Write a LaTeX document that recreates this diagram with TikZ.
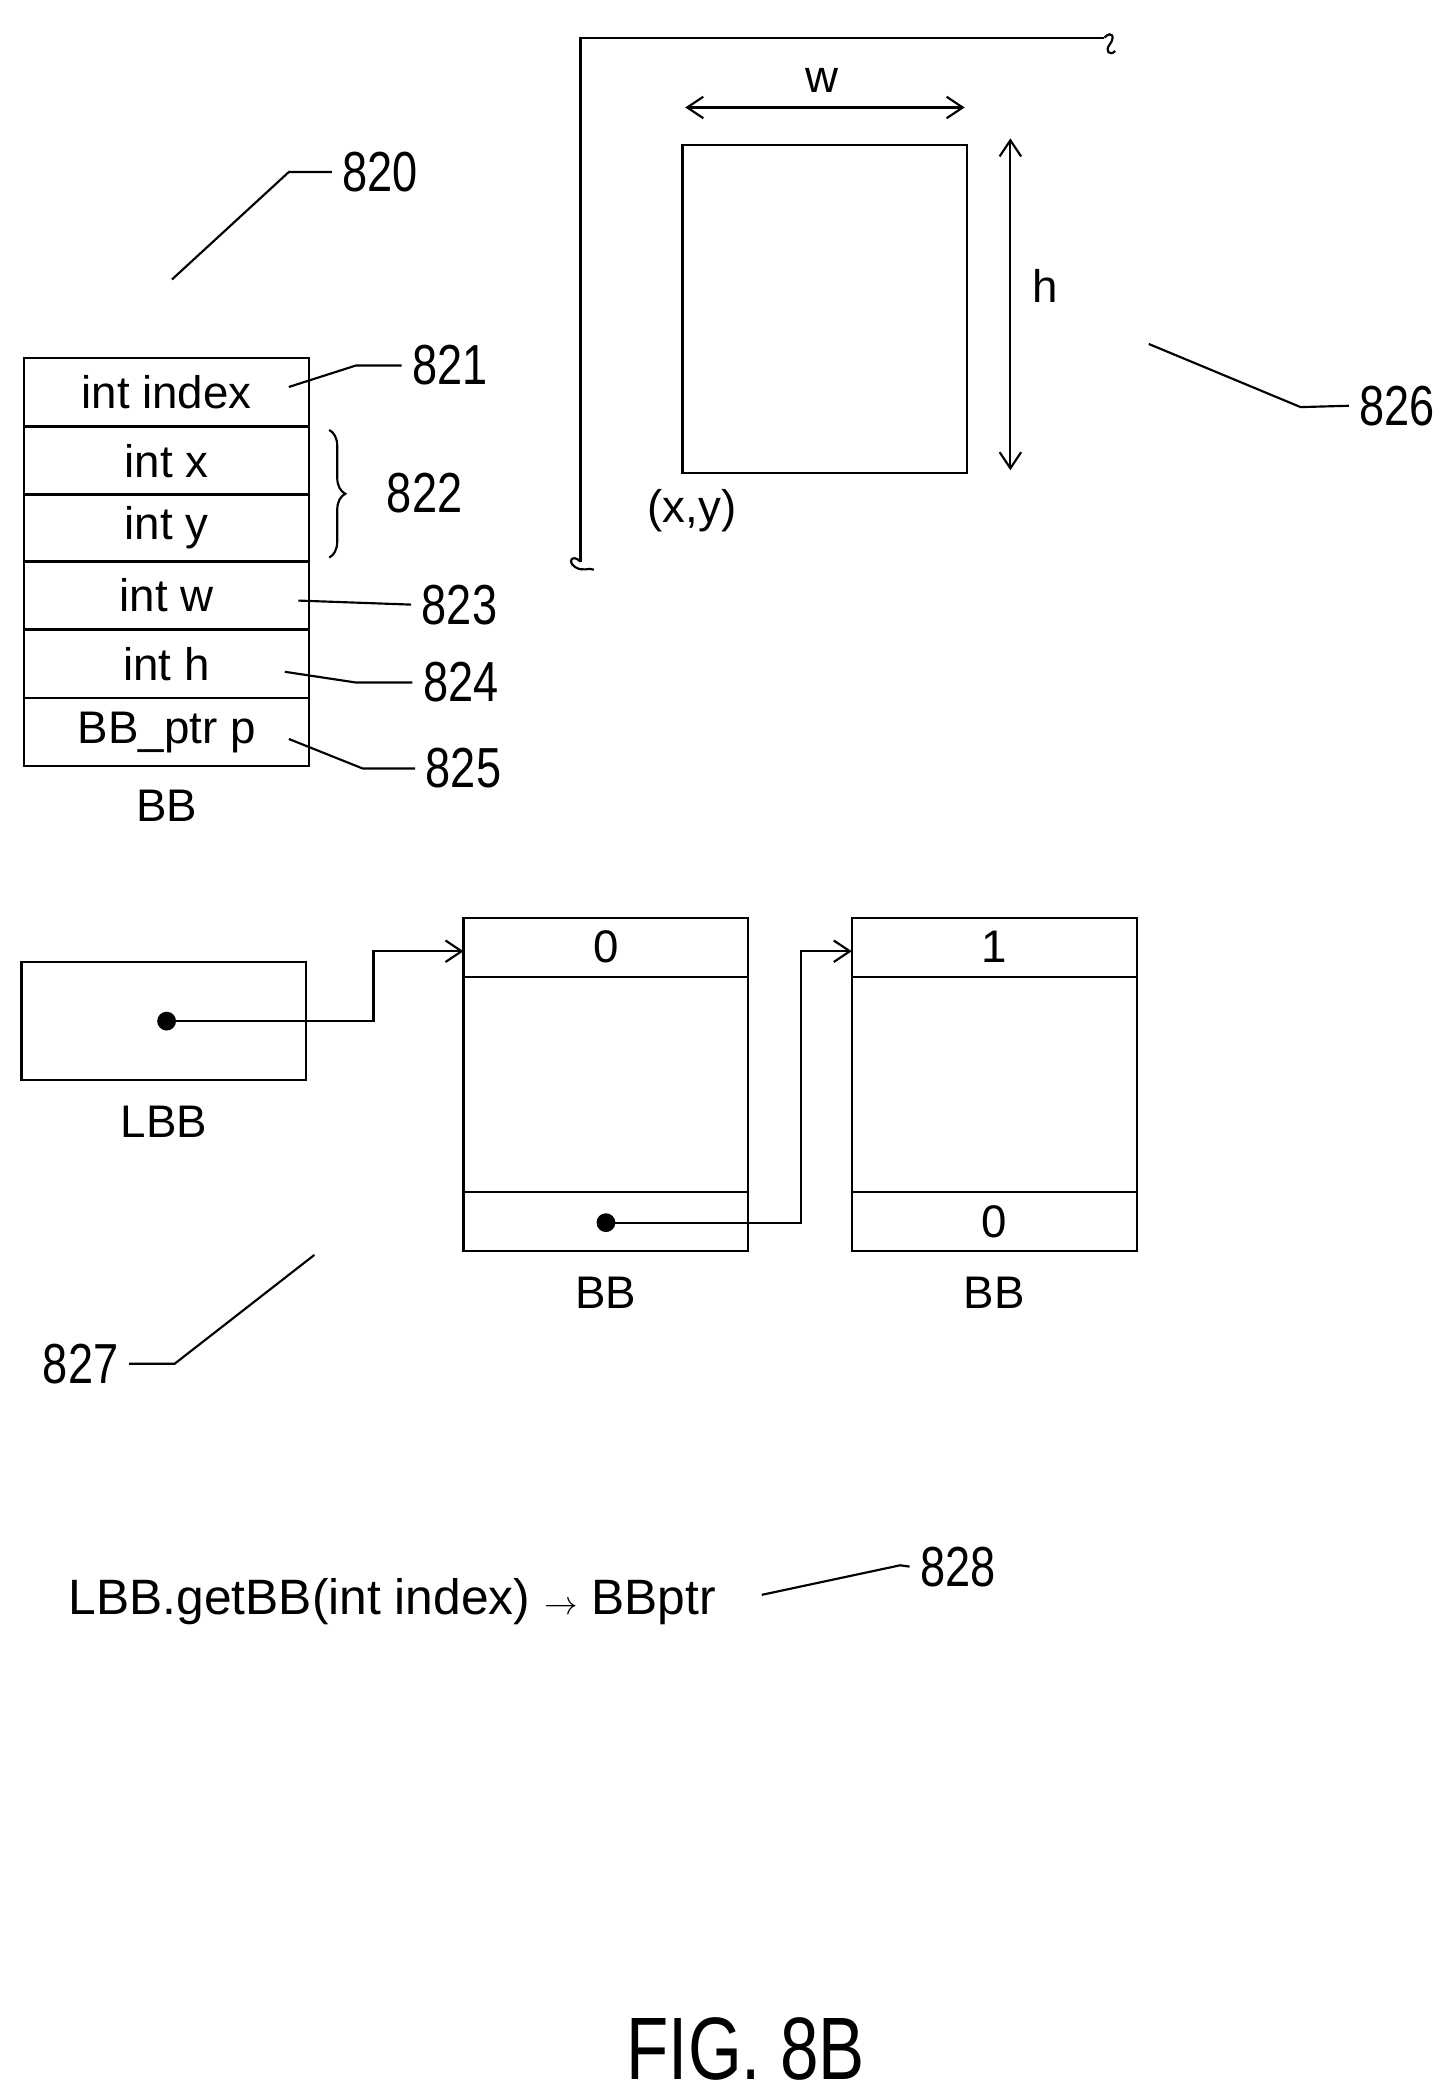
\documentclass[tikz,border=0pt]{standalone}
\usepackage{fontspec}
\setmainfont{Liberation Sans}
\usetikzlibrary{arrows.meta,decorations.pathreplacing}
\begin{document}
\begin{tikzpicture}[x=1pt,y=-1pt,line width=1.6pt,
  txt/.style={font=\fontsize{34}{36}\selectfont,inner sep=0},
  num/.style={font=\fontsize{42}{44}\selectfont,inner sep=0,xscale=0.8,outer sep=10pt},
  arr/.style={-{Straight Barb[length=12pt,width=16pt]}},
  darr/.style={{Straight Barb[length=12pt,width=16pt]}-{Straight Barb[length=12pt,width=16pt]}}]
\useasboundingbox (0,0) rectangle (1080,1563);
% frame
\coordinate (fc) at (432,28);
\draw (432,418) -- (fc) -- (822,28);
\draw (822,28) .. controls (828,22) and (830,28) .. (826,33) .. controls (822,38) and (826,42) .. (830,38);
\draw (432,418) .. controls (426,412) and (422,418) .. (428,422) .. controls (434,426) and (438,422) .. (442,424);
\node[draw,minimum width=212pt,minimum height=244pt,inner sep=0] (r) at (614,230) {};
\coordinate (wa) at (510,80); \coordinate (wb) at (718,80);
\draw[darr] (wa) -- (wb);
\node[txt] (w) at (612,60) {w};
\coordinate (ha) at (752,103); \coordinate (hb) at (752,350);
\draw[darr] (ha) -- (hb);
\node[txt] (h) at (778,213) {h};
\node[txt] (xy) at (515,380) {(x,y)};
\node[num] (n826) at (1040,302) {826};
\coordinate (l826) at (855,256);
\draw (l826) -- (968,303) -- (n826.west);
% 820
\node[num] (n820) at (283,128) {820};
\coordinate (l820) at (128,208);
\draw (l820) -- (215,128) -- (n820.west);
% table
\foreach \i/\y in {1/292,2/343,3/393,4/443,5/494,6/545}
  \node[draw,minimum width=212pt,minimum height=50.5pt,inner sep=0] (t\i) at (124,\y) {};
\node[txt] at (124,292) {int index};
\node[txt] at (124,343) {int x};
\node[txt] at (124,393) {int y};
\node[txt] at (124,443) {int w};
\node[txt] at (124,494) {int h};
\node[txt] at (124,545) {BB\_ptr p};
\node[txt] (bb0) at (124,600) {BB};
\node[num] (n821) at (335,272) {821};
\node[num] (n822) at (316,367) {822};
\node[num] (n823) at (342,450) {823};
\node[num] (n824) at (343,508) {824};
\node[num] (n825) at (345,572) {825};
\coordinate (a821) at (215,288); \coordinate (a823) at (222,447);
\coordinate (a824) at (212,500); \coordinate (a825) at (215,550);
\draw (a821) -- (265,272) -- (n821.west);
\draw (a823) -- (n823.west);
\draw (a824) -- (265,508) -- (n824.west);
\draw (a825) -- (270,572) -- (n825.west);
\coordinate (ba) at (245,320); \coordinate (bb) at (245,415);
\draw[decorate,decoration={brace,amplitude=12pt}] (ba) -- (bb);
% LBB
\node[draw,minimum width=212pt,minimum height=88pt,inner sep=0] (lbb) at (122,760) {};
\node[txt] (lbbl) at (122,835) {LBB};
\node[circle,fill,inner sep=0,minimum size=14pt] (d1) at (124,760) {};
% BB1
\node[draw,minimum width=212pt,minimum height=248pt,inner sep=0] (b1) at (451,807) {};
\draw (345,727) -- (557,727); \draw (345,887) -- (557,887);
\node[txt] at (451,705) {0};
\node[txt] at (451,962) {BB};
\node[circle,fill,inner sep=0,minimum size=14pt] (d2) at (451,910) {};
\coordinate (b1in) at (345,708);
% BB2
\node[draw,minimum width=212pt,minimum height=248pt,inner sep=0] (b2) at (740,807) {};
\draw (634,727) -- (846,727); \draw (634,887) -- (846,887);
\node[txt] at (740,705) {1};
\node[txt] at (740,909) {0};
\node[txt] at (740,962) {BB};
\coordinate (b2in) at (634,708);
\draw[arr] (d1.center) -- (278,760) -- (278,708) -- (b1in);
\draw[arr] (d2.center) -- (596,910) -- (596,708) -- (b2in);
% 827
\node[num] (n827) at (60,1015) {827};
\coordinate (l827) at (234,934);
\draw (n827.east) -- (130,1015) -- (l827);
% 828
\node[txt,font=\fontsize{37}{40}\selectfont] (code) at (292,1192) {LBB.getBB(int index) {\fontsize{34}{36}\selectfont$\rightarrow$} BBptr};
\node[num] (n828) at (713,1166) {828};
\coordinate (l828) at (567,1187);
\draw (l828) -- (670,1165) -- (n828.west);
\node[font=\fontsize{66}{68}\selectfont,inner sep=0,xscale=0.78] (fig) at (555,1525) {FIG. 8B};
\end{tikzpicture}
\end{document}
